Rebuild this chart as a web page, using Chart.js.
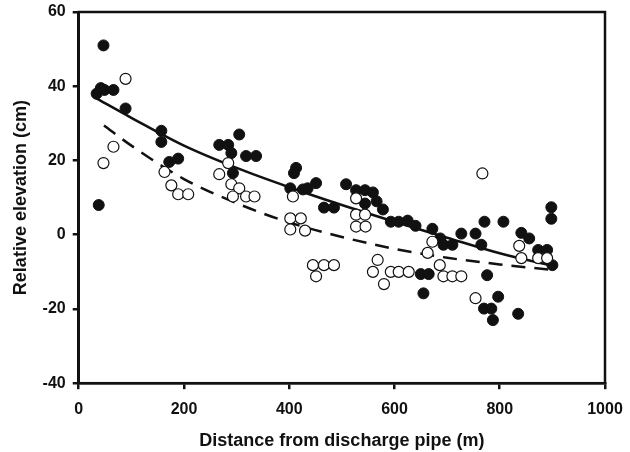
<!DOCTYPE html>
<html>
<head>
<meta charset="utf-8">
<script src="https://cdn.jsdelivr.net/npm/chart.js@4"></script>
<style>
  html, body { margin: 0; padding: 0; background: #fff; }
  #elev { display: block; }
</style>
</head>
<body>
<canvas id="elev" width="630" height="452"></canvas>
<script>
// filled circles
var filledX = [47, 34, 42, 49, 66, 89, 38, 157, 157, 172, 189, 267, 284, 290, 293, 305, 318, 337,
  413, 409, 402, 426, 435, 451, 466, 485, 508, 527, 544, 559, 544, 566, 578, 593, 608, 625, 640,
  672, 650, 665, 655, 687, 693, 710, 727, 754, 765, 771, 807, 898, 898, 776, 797, 770, 784, 787,
  835, 841, 856, 873, 890, 900];
var filledY = [51, 38, 39.5, 39, 39, 34, 8, 28, 25, 19.6, 20.5, 24.2, 24.2, 22, 16.6, 27, 21.2, 21.2,
  18, 16.6, 12.5, 12.2, 12.5, 13.9, 7.3, 7.3, 13.6, 12, 12, 11.4, 8.4, 9, 6.8, 3.5, 3.5, 3.8, 2.4,
  1.6, -10.6, -10.6, -15.8, -1, -2.7, -2.7, 0.3, 0.3, -2.7, 3.5, 3.5, 7.4, 4.3, -10.9, -16.7, -19.9, -19.9, -23,
  -21.3, 0.5, -1, -4.1, -4.1, -8.2];

// open circles
var openX = [89, 66, 47, 163, 176, 189, 208, 284, 267, 290, 305, 293, 318, 334, 407, 402, 422, 402, 430,
  445, 466, 485, 451, 527, 527, 544, 527, 545, 568, 559, 580, 593, 608, 627, 672, 663, 686, 693, 710,
  727, 767, 754, 837, 841, 873, 890];
var openY = [42, 23.7, 19.3, 16.9, 13.3, 10.9, 10.9, 19.3, 16.3, 13.6, 12.5, 10.3, 10.3, 10.3, 10.3, 4.4, 4.4, 1.4, 1.1,
  -8.2, -8.2, -8.2, -11.2, 9.8, 5.4, 5.4, 2.2, 2.2, -6.8, -10, -13.3, -10, -10, -10, -1.9, -4.9, -8.2, -11.2, -11.2,
  -11.2, 16.5, -17.1, -3, -6.3, -6.3, -6.3];

// fitted curves
var solidX = [30, 100, 200, 300, 400, 500, 600, 700, 800, 900];
var solidY = [37, 31.5, 24, 18, 12.8, 8, 3.5, -0.8, -5, -8.4];
var dashX = [48, 100, 200, 300, 400, 500, 600, 700, 800, 900];
var dashY = [29.4, 24, 15, 8.5, 3.3, -0.6, -3.8, -6.2, -8, -9.5];

var xTicks = [0, 200, 400, 600, 800, 1000];
var yTicks = [-40, -20, 0, 20, 40, 60];

function pts(xs, ys) {
  return xs.map(function (x, i) { return { x: x, y: ys[i] }; });
}

var frame = {
  id: 'frame',
  afterDraw: function (chart) {
    var a = chart.chartArea, c = chart.ctx;
    c.save();
    c.strokeStyle = '#111';
    c.lineWidth = 2.5;
    c.strokeRect(a.left, a.top, a.right - a.left, a.bottom - a.top);
    c.restore();
  }
};

var tickFont = { family: 'Liberation Sans', size: 16, weight: 'bold' };
var titleFont = { family: 'Liberation Sans', size: 18, weight: 'bold' };

var ctx = document.getElementById('elev');
var elevChart = new Chart(ctx, {
  type: 'scatter',
  data: {
    datasets: [
      {
        label: 'open',
        data: pts(openX, openY),
        backgroundColor: '#fff',
        borderColor: '#111',
        borderWidth: 1.2,
        pointRadius: 5.5,
        order: 1
      },
      {
        label: 'filled',
        data: pts(filledX, filledY),
        backgroundColor: '#111',
        borderColor: '#111',
        borderWidth: 1,
        pointRadius: 5.5,
        order: 2
      },
      {
        label: 'fit filled',
        data: pts(solidX, solidY),
        showLine: true,
        borderColor: '#111',
        borderWidth: 2.5,
        pointRadius: 0,
        cubicInterpolationMode: 'monotone',
        order: 3
      },
      {
        label: 'fit open',
        data: pts(dashX, dashY),
        showLine: true,
        borderColor: '#111',
        borderWidth: 2.5,
        borderDash: [14, 9],
        pointRadius: 0,
        cubicInterpolationMode: 'monotone',
        order: 3
      }
    ]
  },
  options: {
    responsive: false,
    animation: false,
    layout: { padding: { left: 10, right: 25, top: 12, bottom: 0 } },
    plugins: { legend: { display: false }, tooltip: { enabled: false } },
    scales: {
      x: {
        type: 'linear',
        min: 0, max: 1000,
        afterBuildTicks: function (axis) { axis.ticks = xTicks.map(function (v) { return { value: v }; }); },
        afterFit: function (axis) { axis.paddingRight = 0; axis.paddingLeft = 0; },
        grid: { drawOnChartArea: false, drawTicks: true, tickLength: 6, color: '#111', lineWidth: 2.5 },
        border: { display: true, color: '#111', width: 2.5 },
        ticks: {
          color: '#111', padding: 11, maxRotation: 0, font: tickFont,
          callback: function (v) { return String(v); }
        },
        title: {
          display: true,
          text: 'Distance from discharge pipe (m)',
          color: '#111',
          padding: { top: 0, bottom: 0 },
          font: titleFont
        }
      },
      y: {
        type: 'linear',
        min: -40, max: 60,
        afterBuildTicks: function (axis) { axis.ticks = yTicks.map(function (v) { return { value: v }; }); },
        afterFit: function (axis) { axis.paddingTop = 0; },
        grid: { drawOnChartArea: false, drawTicks: true, tickLength: 6, color: '#111', lineWidth: 2.5 },
        border: { display: true, color: '#111', width: 2.5 },
        ticks: { color: '#111', padding: 7, font: tickFont },
        title: {
          display: true,
          text: 'Relative elevation (cm)',
          color: '#111',
          padding: { top: 0, bottom: 4 },
          font: titleFont
        }
      }
    }
  },
  plugins: [frame]
});
</script>
</body>
</html>
